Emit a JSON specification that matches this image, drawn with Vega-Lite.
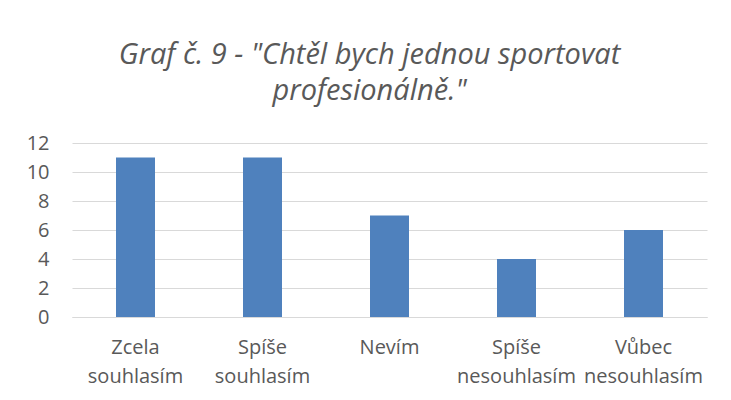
{
  "$schema": "https://vega.github.io/schema/vega-lite/v6.json",
  "width": 635,
  "height": 174,
  "autosize": {"type": "none"},
  "padding": {"left": 72, "top": 143, "right": 24, "bottom": 83},
  "background": "white",
  "data": {"values": [
    {"kategorie": "Zcela souhlasím", "pocet": 11},
    {"kategorie": "Spíše souhlasím", "pocet": 11},
    {"kategorie": "Nevím", "pocet": 7},
    {"kategorie": "Spíše nesouhlasím", "pocet": 4},
    {"kategorie": "Vůbec nesouhlasím", "pocet": 6}
  ]},
  "title": {
    "text": ["Graf č. 9 - \"Chtěl bych jednou sportovat", "profesionálně.\""],
    "font": "Open Sans",
    "fontStyle": "italic",
    "fontWeight": "normal",
    "fontSize": 29,
    "color": "#595959",
    "lineHeight": 36,
    "anchor": "middle",
    "dx": -20,
    "offset": 27
  },
  "mark": {"type": "bar", "color": "#4f81bd", "width": 39},
  "encoding": {
    "x": {
      "field": "kategorie",
      "type": "nominal",
      "sort": null,
      "axis": {
        "title": null,
        "labelAngle": 0,
        "labelExpr": "split(datum.label, ' ')",
        "labelFont": "Open Sans",
        "labelFontSize": 20,
        "labelColor": "#595959",
        "labelLineHeight": 29,
        "labelPadding": 20,
        "ticks": false,
        "domainColor": "#d9d9d9",
        "domainWidth": 1,
        "labelLimit": 200
      }
    },
    "y": {
      "field": "pocet",
      "type": "quantitative",
      "scale": {"domain": [0, 12]},
      "axis": {
        "title": null,
        "values": [0, 2, 4, 6, 8, 10, 12],
        "labelFont": "Open Sans",
        "labelFontSize": 20,
        "labelColor": "#595959",
        "labelPadding": 23,
        "ticks": false,
        "domain": false,
        "gridColor": "#d9d9d9",
        "gridWidth": 1
      }
    }
  },
  "config": {"view": {"stroke": null}}
}
